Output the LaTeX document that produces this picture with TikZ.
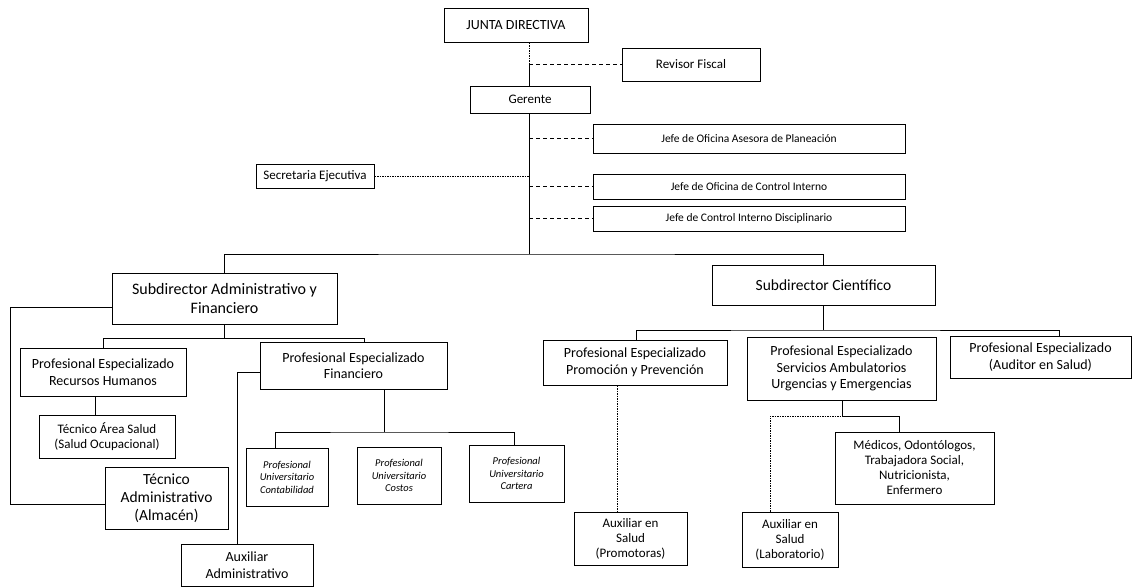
\documentclass[tikz,border=0pt]{standalone}
\usepackage{fontspec}
\setmainfont{Carlito}
\newcommand\mybox[7]{\node[box,#6,minimum width={(#4-#2)*1pt},minimum height={(#5-#3)*1pt}] (#1) at ({(#2+#4)/2},{(#3+#5)/2}) {#7};}
\begin{document}
\begin{tikzpicture}[x=1pt,y=-1pt,
  box/.style={draw, line width=1pt, align=center, inner sep=1pt},
  ln/.style={line width=0.8pt},
  dsh/.style={line width=0.8pt, dash pattern=on 4pt off 3pt},
  dotl/.style={line width=0.6pt, dash pattern=on 1.5pt off 1pt},
  big/.style={font=\fontsize{16}{19}\selectfont},
  mid/.style={font=\fontsize{14}{16.5}\selectfont},
  med/.style={font=\fontsize{13}{15.5}\selectfont},
  sml/.style={font=\fontsize{13}{15}\selectfont},
  tiny/.style={font=\fontsize{11.5}{13.5}\selectfont},
  uni/.style={font=\fontsize{10.5}{12.5}\selectfont\itshape}]
\useasboundingbox (0,0) rectangle (1134,587);
% coordinates for vertical lines
\coordinate (m) at (529,0);
\coordinate (busy) at (0,254);
% top
\mybox{junta}{444}{8}{588}{42}{font=\fontsize{14}{16}\selectfont}{JUNTA DIRECTIVA}
\mybox{revisor}{622}{48}{760}{81}{med}{Revisor Fiscal}
\mybox{gerente}{470}{86}{590}{113}{med}{Gerente}
\mybox{j1}{593}{124}{905}{153}{tiny}{Jefe de Oficina Asesora de Planeación}
\mybox{j2}{593}{174}{905}{199}{tiny}{Jefe de Oficina de Control Interno}
\mybox{j3}{593}{206}{905}{231}{tiny}{Jefe de Control Interno Disciplinario}
\mybox{sec}{256}{164}{374}{188}{sml}{Secretaria Ejecutiva}
% subdirectors
\mybox{subA}{112}{273}{337}{324}{big}{Subdirector Administrativo y\\Financiero}
\mybox{subC}{712}{265}{935}{305}{font=\fontsize{15.5}{18}\selectfont}{Subdirector Científico}
% admin branch
\mybox{rh}{20}{348}{186}{396}{mid}{Profesional Especializado\\Recursos Humanos}
\mybox{fin}{260}{342}{447}{389}{mid}{Profesional Especializado\\Financiero}
\mybox{tsal}{39}{415}{175}{458}{sml}{Técnico Área Salud\\(Salud Ocupacional)}
\mybox{tadm}{105}{467}{228}{529}{font=\fontsize{15.5}{18}\selectfont}{Técnico\\Administrativo\\(Almacén)}
\mybox{auxA}{181}{544}{313}{586}{font=\fontsize{14}{16.5}\selectfont}{Auxiliar\\Administrativo}
\mybox{cont}{246}{448}{328}{506}{uni}{Profesional\\Universitario\\Contabilidad}
\mybox{cost}{357}{447}{441}{504}{uni}{Profesional\\Universitario\\Costos}
\mybox{cart}{469}{445}{564}{502}{uni}{Profesional\\Universitario\\Cartera}
% scientific branch
\mybox{prom}{543}{340}{727}{385}{mid}{Profesional Especializado\\Promoción y Prevención}
\mybox{serv}{747}{337}{936}{400}{mid}{Profesional Especializado\\Servicios Ambulatorios\\Urgencias y Emergencias}
\mybox{aud}{950}{336}{1131}{378}{mid}{Profesional Especializado\\(Auditor en Salud)}
\mybox{auxP}{574}{512}{687}{565}{sml}{Auxiliar en\\Salud\\(Promotoras)}
\mybox{medi}{835}{432}{994}{504}{sml}{Médicos, Odontólogos,\\Trabajadora Social,\\Nutricionista,\\Enfermero}
\mybox{auxL}{742}{512}{838}{567}{sml}{Auxiliar en\\Salud\\(Laboratorio)}
% connectors: top
\draw[dotl] (junta.south -| m) -- (revisor.west -| m);
\draw[ln] (revisor.west -| m) -- (gerente.north -| m);
\draw[dsh] (revisor.west -| m) -- (revisor.west);
\draw[ln] (gerente.south -| m) -- (m |- busy);
\draw[dsh] (j1.west -| m) -- (j1.west);
\draw[dsh] (j2.west -| m) -- (j2.west);
\draw[dsh] (j3.west -| m) -- (j3.west);
\draw[dotl] (sec.east) -- (sec.east -| m);
% main bus
\draw[ln] (subA.north) |- (m |- busy) -| (subC.north);
% admin children
\coordinate (fx) at (364,0);
\draw[ln] (subA.south) -- ++(0,14) coordinate (ab) -| (rh.north);
\draw[ln] (ab) -| (fin.north -| fx);
\coordinate (tx) at (95,0);
\draw[ln] (rh.south -| tx) -- (tsal.north -| tx);
\coordinate (ly) at (0,504);
\coordinate (lx) at (10,307);
\draw[ln] (subA.west |- lx) -- (lx) |- (tadm.west |- ly);
\coordinate (fl) at (237,372);
\draw[ln] (fin.west |- fl) -- (fl) -- (auxA.north -| fl);
\coordinate (fb) at (384,432);
\draw[ln] (fin.south -| fb) -- (fb);
\draw[ln] (cont.north -| 275,0) |- (fb) -| (cart.north -| 514,0);
\draw[ln] (cost.north -| 406,0) -- (cost.north -| 406,0 |- fb);
% scientific children
\coordinate (cb) at (0,330);
\draw[ln] (subC.south) -- (subC.south |- cb);
\draw[ln] (prom.north -| 636,0) |- (subC.south |- cb) -| (aud.north -| 1059,0);
\draw[ln] (serv.north -| 842,0) -- (serv.north -| 842,0 |- cb);
\draw[dotl] (prom.south -| 617,0) -- (auxP.north -| 617,0);
\coordinate (sb) at (842,416);
\draw[ln] (serv.south -| sb) -- (sb);
\draw[dotl] (auxL.north -| 770,0) |- (sb);
\draw[ln] (sb) -| (medi.north -| 899,0);
\end{tikzpicture}
\end{document}
